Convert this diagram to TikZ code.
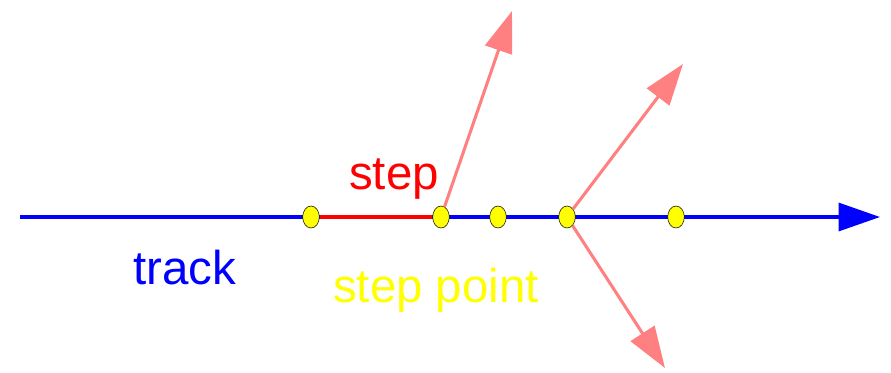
\documentclass[tikz,border=0pt]{standalone}
\usepackage{fontspec}
\setmainfont{Liberation Sans}
\usetikzlibrary{arrows.meta,shapes.geometric}
\definecolor{trackblue}{RGB}{0,0,255}
\definecolor{stepred}{RGB}{255,0,0}
\definecolor{pointyellow}{RGB}{255,255,0}
\definecolor{secpink}{RGB}{255,128,128}

\begin{document}
\begin{tikzpicture}[
    x=0.75pt,y=-0.75pt,
    stepdot/.style={ellipse,draw=black,thin,fill=pointyellow,inner sep=0pt,
      minimum width=12.5pt,minimum height=16.5pt},
    bigtext/.style={font=\fontsize{35.6}{40}\selectfont,anchor=base},
    trackline/.style={-{Triangle[length=31pt,width=21pt]},line width=2.3pt,draw=trackblue},
    stepline/.style={line width=2.3pt,draw=stepred},
    secarrow/.style={-{Triangle[length=31pt,width=21pt]},line width=2.3pt,draw=secpink}
  ]
    \useasboundingbox (0,0) rectangle (891,372);

    \coordinate (trackstart) at (20,217);
    \coordinate (trackend) at (880,217);
    \draw[trackline] (trackstart) -- (trackend);

    \node[stepdot] (p1) at (311,217) {};
    \node[stepdot] (p2) at (441,217) {};
    \node[stepdot] (p3) at (498,217) {};
    \node[stepdot] (p4) at (567,217) {};
    \node[stepdot] (p5) at (676,217) {};

    \draw[stepline] (p1) -- (p2);

    \coordinate (sec1) at (512,11);
    \coordinate (sec2) at (683,64);
    \coordinate (sec3) at (665,368);
    \draw[secarrow] (p2) -- (sec1);
    \draw[secarrow] (p4) -- (sec2);
    \draw[secarrow] (p4) -- (sec3);

    \node[bigtext,text=stepred] (steplabel) at (394,189) {step};
    \node[bigtext,text=trackblue] (tracklabel) at (185,284) {track};
    \node[bigtext,text=pointyellow] (pointlabel) at (436,302) {step point};
  \end{tikzpicture}
\end{document}
